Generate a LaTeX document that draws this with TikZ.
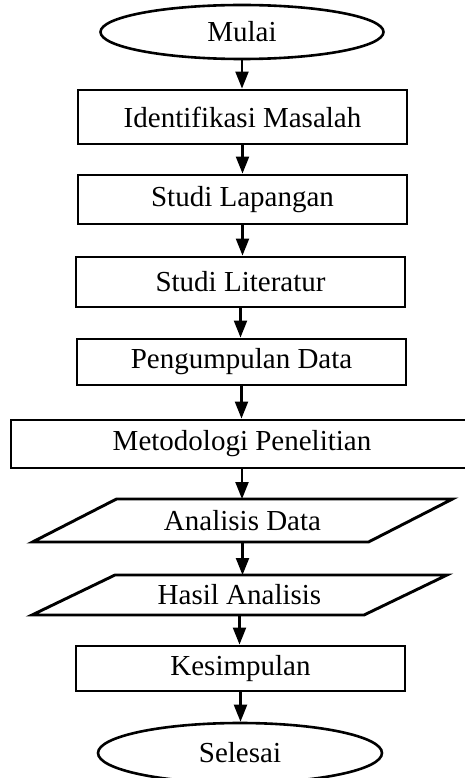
\documentclass[tikz,border=0pt]{standalone}
\usepackage{fontspec}
\setmainfont{Liberation Serif}
\usetikzlibrary{shapes.geometric,arrows.meta}
\begin{document}
\begin{tikzpicture}[x=1pt,y=-1pt,
  every node/.style={font=\fontsize{29}{34}\selectfont, inner sep=0pt},
  terminal/.style={ellipse, draw, line width=2.6pt, minimum width=283pt, minimum height=54pt},
  process/.style={rectangle, draw, line width=2.9pt, minimum width=329pt},
  io/.style={rectangle, outer sep=0pt, minimum width=252pt},
  ioframe/.style={line width=2.9pt, line join=miter},
  flow/.style={line width=2.2pt, -{Triangle[length=17pt,width=13pt]}}
]
\useasboundingbox (0,0) rectangle (464,778);

% start and end terminals
\node[terminal] (mulai) at (242,32) {Mulai};
\node[terminal, minimum width=284pt, minimum height=60pt] (selesai) at (240,753) {Selesai};

% process steps
\node[process, minimum height=54pt] (ident) at (242.5,117) {Identifikasi Masalah};
\node[process, minimum height=49pt] (lap) at (242.5,199.5) {Studi Lapangan};
\node[process, minimum height=50pt] (lit) at (240.5,282) {Studi Literatur};
\node[process, minimum height=46pt] (kumpul) at (241.5,362) {Pengumpulan Data};
\node[process, minimum width=462pt, minimum height=48pt] (metode) at (242,444) {Metodologi Penelitian};

% input/output steps (parallelograms)
\node[io, minimum height=43pt] (analisis) at (242.5,520.5) {Analisis Data};
\draw[ioframe] (analisis.north west) -- ([xshift=84pt]analisis.north east)
  -- (analisis.south east) -- ([xshift=-84pt]analisis.south west) -- cycle;
\node[io, minimum width=249pt, minimum height=40pt] (hasil) at (239.5,595) {Hasil Analisis};
\draw[ioframe] (hasil.north west) -- ([xshift=83pt]hasil.north east)
  -- (hasil.south east) -- ([xshift=-83pt]hasil.south west) -- cycle;

\node[process, minimum height=45pt] (simpul) at (240.5,668.5) {Kesimpulan};

% connectors
\draw[flow] (mulai.south) -- (mulai.south |- ident.north);
\draw[flow] (ident.south) -- (ident.south |- lap.north);
\draw[flow] (lap.south) -- (lap.south |- lit.north);
\draw[flow] (lit.south) -- (lit.south |- kumpul.north);
\draw[flow] (kumpul.south) -- (kumpul.south |- metode.north);
\draw[flow] (metode.south) -- (metode.south |- analisis.north);
\draw[flow] (analisis.south) -- (analisis.south |- hasil.north);
\draw[flow] (hasil.south) -- (hasil.south |- simpul.north);
\draw[flow] (simpul.south) -- (simpul.south |- selesai.north);
\end{tikzpicture}
\end{document}
